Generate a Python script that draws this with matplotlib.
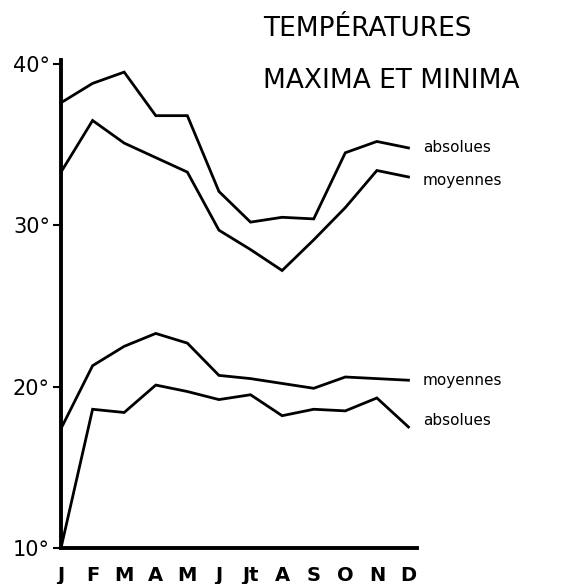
import matplotlib
matplotlib.use("Agg")
import matplotlib.pyplot as plt

months = ["J", "F", "M", "A", "M", "J", "Jt", "A", "S", "O", "N", "D"]
max_absolues = [37.6, 38.8, 39.5, 36.8, 36.8, 32.1, 30.2, 30.5, 30.4, 34.5, 35.2, 34.8]
max_moyennes = [33.3, 36.5, 35.1, 34.2, 33.3, 29.7, 28.5, 27.2, 29.1, 31.1, 33.4, 33.0]
min_moyennes = [17.4, 21.3, 22.5, 23.3, 22.7, 20.7, 20.5, 20.2, 19.9, 20.6, 20.5, 20.4]
min_absolues = [10.0, 18.6, 18.4, 20.1, 19.7, 19.2, 19.5, 18.2, 18.6, 18.5, 19.3, 17.5]
y_ticks = [10, 20, 30, 40]
y_tick_labels = ["10°", "20°", "30°", "40°"]

fig = plt.figure(figsize=(5.85, 5.84), dpi=100)
ax = fig.add_axes([61/585, 36/584, 356/585, 488/584])

x = list(range(len(months)))
for series in (max_absolues, max_moyennes, min_moyennes, min_absolues):
    ax.plot(x, series, color="black", lw=2.0, solid_joinstyle="miter", clip_on=False)

ax.set_xlim(0, 11.27)
ax.set_ylim(10, 40.25)
for s in ("top", "right"):
    ax.spines[s].set_visible(False)
ax.spines["left"].set_linewidth(2.8)
ax.spines["bottom"].set_linewidth(2.8)

ax.set_yticks(y_ticks)
ax.set_yticklabels(y_tick_labels, fontsize=15)
ax.tick_params(axis="y", length=6, width=1.5, pad=2)
ax.set_xticks(x)
ax.set_xticklabels(months, fontsize=14, fontweight="bold")
ax.tick_params(axis="x", length=0, pad=13)

lx = 11.45
ax.text(lx, max_absolues[-1], "absolues", fontsize=11, va="center", ha="left")
ax.text(lx, max_moyennes[-1] - 0.25, "moyennes", fontsize=11, va="center", ha="left")
ax.text(lx, min_moyennes[-1], "moyennes", fontsize=11, va="center", ha="left")
ax.text(lx, min_absolues[-1] + 0.4, "absolues", fontsize=11, va="center", ha="left")

fig.text(263/585, 1 - 29/584, "TEMPÉRATURES", fontsize=19, va="center", ha="left")
fig.text(263/585, 1 - 81/584, "MAXIMA ET MINIMA", fontsize=19, va="center", ha="left")

fig.savefig("out.png", dpi=100)
